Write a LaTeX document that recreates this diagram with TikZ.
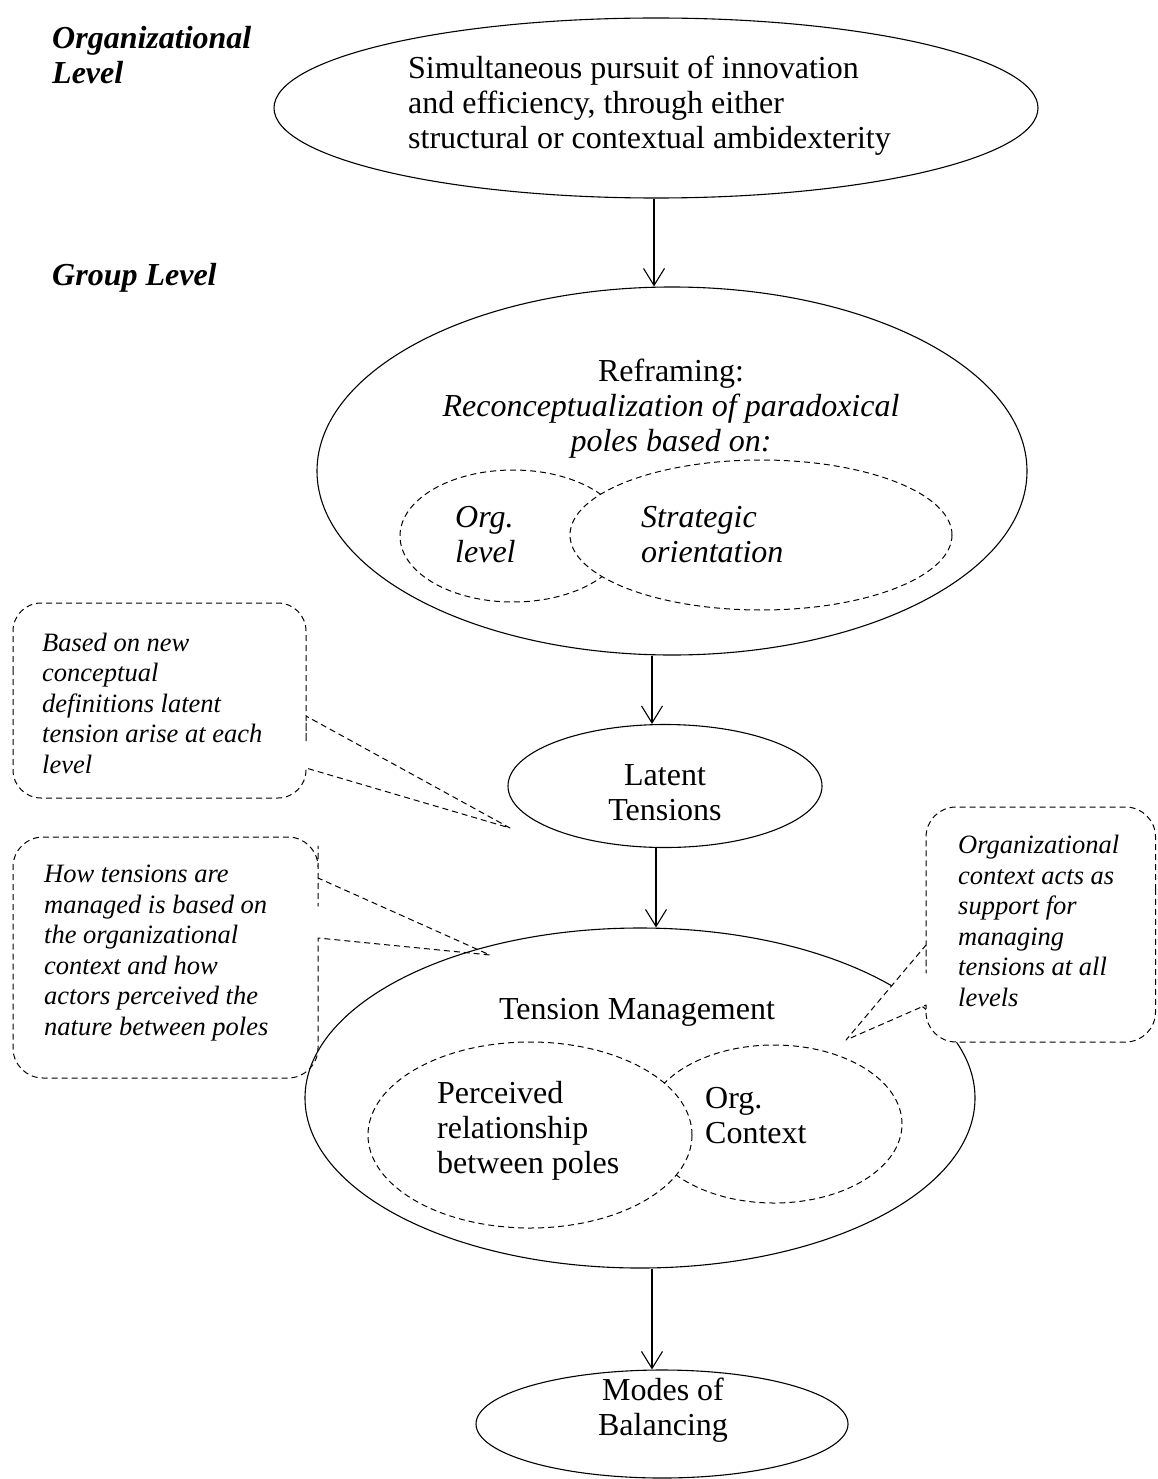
\documentclass[tikz,border=0pt]{standalone}
\usepackage{fontspec}
\setmainfont{Liberation Serif}
\usetikzlibrary{shapes.geometric,arrows.meta}

\begin{document}
\begin{tikzpicture}[x=1pt,y=-1pt,
  oval/.style={ellipse, draw, line width=1.1pt, inner sep=0pt},
  dashoval/.style={ellipse, draw, line width=1pt, dash pattern=on 6pt off 4pt, fill=white, inner sep=0pt},
  maintxt/.style={font=\fontsize{32}{35}\selectfont, inner sep=0pt},
  itxt/.style={font=\fontsize{32}{35}\selectfont\itshape, inner sep=0pt},
  notetxt/.style={font=\fontsize{26.5}{30.5}\selectfont\itshape, align=left, inner sep=0pt, anchor=west},
  leveltxt/.style={font=\fontsize{32}{35}\selectfont\bfseries\itshape, align=left, inner sep=0pt, anchor=west},
  arr/.style={line width=1.1pt, -{Straight Barb[length=17pt,width=21pt,line width=1.1pt]}},
  callout/.style={line width=1pt, dash pattern=on 6pt off 4pt, line join=round}]

\useasboundingbox (0,0) rectangle (1157,1479);

% level labels
\node[leveltxt] (lvlorg) at (52,55) {Organizational\\Level};
\node[leveltxt] (lvlgrp) at (52,278) {Group Level};

% organizational level
\node[oval, minimum width=764pt, minimum height=180pt] (top) at (656,108) {};
\node[maintxt, align=left, anchor=west] (toptxt) at (408,106)
  {Simultaneous pursuit of innovation\\and efficiency, through either\\structural or contextual ambidexterity};

% reframing
\node[oval, minimum width=710pt, minimum height=368pt] (refr) at (672,471) {};
\node[maintxt, align=center] (refrtxt) at (671,409)
  {Reframing:\\\textit{Reconceptualization of paradoxical}\\\textit{poles based on:}};
\node[dashoval, minimum width=226pt, minimum height=132pt] (orglvl) at (513,536) {};
\node[itxt, align=left, anchor=west] (orglvltxt) at (455,535) {Org.\\level};
\node[dashoval, minimum width=382pt, minimum height=150pt] (strat) at (761,535) {};
\node[itxt, align=left, anchor=west] (strattxt) at (641,535) {Strategic\\orientation};

% latent tensions
\node[oval, minimum width=314pt, minimum height=123pt] (latent) at (665,786) {};
\node[maintxt, align=center] (latenttxt) at (665,793) {Latent\\Tensions};

% tension management
\node[oval, minimum width=670pt, minimum height=340pt] (tm) at (640,1098) {};
\node[maintxt] (tmtxt) at (637,1012) {Tension Management};
\node[dashoval, minimum width=256pt, minimum height=158pt] (ctx) at (774,1124) {};
\node[dashoval, minimum width=324pt, minimum height=186pt] (perc) at (530,1135) {};
\node[maintxt, align=left, anchor=west] (perctxt) at (437,1131) {Perceived\\relationship\\between poles};
\node[maintxt, align=left, anchor=west] (ctxtxt) at (705,1116) {Org.\\Context};

% modes of balancing
\node[oval, minimum width=372pt, minimum height=108pt] (modes) at (662,1424) {};
\node[maintxt, align=center] (modestxt) at (663,1410) {Modes of\\Balancing};

% flow arrows
\draw[arr] ([xshift=-2pt]top.south) -- ([xshift=-2pt]top.south |- refr.north);
\draw[arr] ([xshift=-20pt]refr.south) -- ([xshift=-20pt]refr.south |- latent.north);
\draw[arr] ([xshift=-9pt]latent.south) -- ([xshift=-9pt]latent.south |- tm.north);
\draw[arr] ([xshift=12pt]tm.south) -- ([xshift=12pt]tm.south |- modes.north);

% callout tips
\coordinate (t1) at (510,828);
\coordinate (t2) at (490,955);
\coordinate (t3) at (846,1040);

% callout 1
\draw[callout] (13,700) [rounded corners=28pt] -- (13,603) -- (306,603) -- (306,714)
  [sharp corners] -- (306,716) -- (t1) -- (306,768) -- (306,770)
  [rounded corners=28pt] -- (306,798) -- (13,798) -- cycle;
\node[notetxt] (n1) at (42,703)
  {Based on new\\conceptual\\definitions latent\\tension arise at each\\level};

% callout 2
\draw[callout] (13,950) [rounded corners=30pt] -- (13,837) -- (318,837) -- (318,876)
  [sharp corners] -- (318,878) -- (t2) -- (318,938) -- (318,940)
  [rounded corners=30pt] -- (318,1078) -- (13,1078) -- cycle;
\node[notetxt] (n2) at (44,953)
  {How tensions are\\managed is based on\\the organizational\\context and how\\actors perceived the\\nature between poles};

% callout 3
\draw[callout, fill=white] (1155.5,920) [rounded corners=30pt] -- (1155.5,807) -- (926,807) -- (926,943)
  [sharp corners] -- (926,945) -- (t3) -- (926,1005) -- (926,1007)
  [rounded corners=30pt] -- (926,1042) -- (1155.5,1042) -- cycle;
\node[notetxt] (n3) at (958,921)
  {Organizational\\context acts as\\support for\\managing\\tensions at all\\levels};

\end{tikzpicture}
\end{document}
